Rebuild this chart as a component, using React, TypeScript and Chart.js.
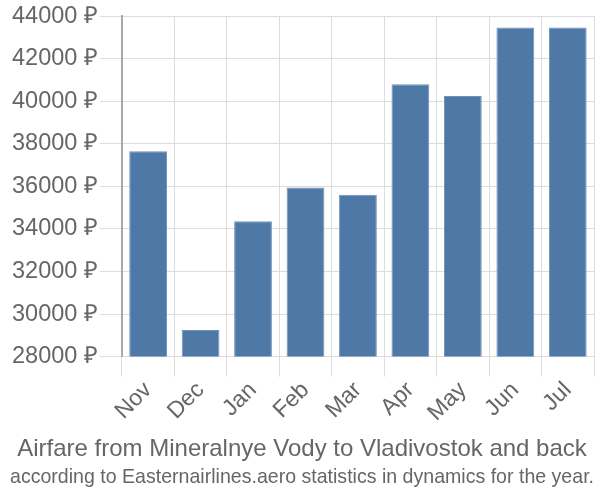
import React, { useEffect, useRef } from "react";
import { Chart, registerables } from "chart.js";

Chart.register(...registerables);

const months = ["Nov", "Dec", "Jan", "Feb", "Mar", "Apr", "May", "Jun", "Jul"];
const prices = [37650, 29250, 34360, 35950, 35610, 40800, 40240, 43470, 43470];
const yMin = 28000;
const yMax = 44000;
const yStep = 2000;
const titleText = "Airfare from Mineralnye Vody to Vladivostok and back";
const subtitleText = "according to Easternairlines.aero statistics in dynamics for the year.";

export default function App() {
  const ref = useRef<HTMLCanvasElement | null>(null);
  useEffect(() => {
    if (!ref.current) return;
    const chart = new Chart(ref.current, {
      type: "bar",
      data: {
        labels: months,
        datasets: [
          {
            data: prices,
            backgroundColor: "#4e79a7",
            borderColor: "#6f92bb",
            borderWidth: 1,
            barPercentage: 0.9,
            categoryPercentage: 0.8,
          },
        ],
      },
      options: {
        animation: false,
        responsive: false,
        maintainAspectRatio: false,
        layout: { padding: { left: 10, right: 6, top: 2, bottom: 6 } },
        plugins: {
          legend: { display: false },
          tooltip: { enabled: false },
          title: {
            display: true,
            text: titleText,
            position: "bottom",
            color: "#666",
            font: { family: "Liberation Sans, Arial, sans-serif", size: 24, weight: "normal" },
            padding: { top: 8, bottom: 0 },
            weight: 1000,
          } as any,
          subtitle: {
            display: true,
            text: subtitleText,
            position: "bottom",
            color: "#666",
            font: { family: "Liberation Sans Narrow, Liberation Sans, Arial, sans-serif", size: 20.3, weight: "normal" },
            padding: { top: 2, bottom: 4 },
            weight: 2000,
          } as any,
        },
        scales: {
          x: {
            grid: { color: "#dddddd", offset: true, tickLength: 20, lineWidth: 1 },
            border: { color: "#dddddd" },
            ticks: {
              color: "#666",
              maxRotation: 45,
              minRotation: 45,
              padding: 0,
              font: { family: "Liberation Sans, Arial, sans-serif", size: 23 },
            },
          },
          y: {
            min: yMin,
            max: yMax,
            grid: { color: "#dddddd", tickLength: 22 },
            border: { color: "#aaaaaa", width: 2 },
            ticks: {
              stepSize: yStep,
              color: "#666",
              padding: 2,
              font: { family: "Liberation Sans, Arial, sans-serif", size: 23.5 },
              callback: (v: any) => `${v} ₽`,
            },
          },
        },
      },
    });
    return () => chart.destroy();
  }, []);
  return (
    <div style={{ position: "fixed", left: 0, top: 0, width: 600, height: 500, background: "#fff" }}>
      <canvas ref={ref} width={600} height={500} style={{ width: 600, height: 500 }} />
    </div>
  );
}
